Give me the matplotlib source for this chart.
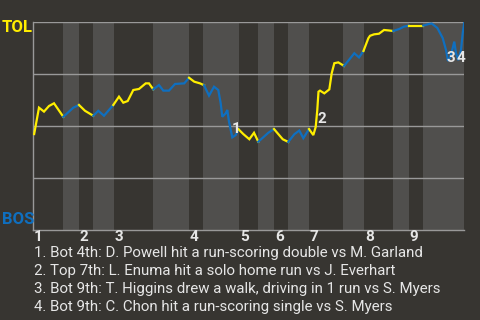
import matplotlib
matplotlib.use("Agg")
from matplotlib import pyplot as plt

# game progress (0-100) and TOL win probability (%)
progress = [0.2, 1.32, 2.48, 3.64, 4.80, 6.96, 9.28, 10.60, 11.99, 13.92,
            15.08, 16.40, 18.56, 19.88, 20.88, 21.90, 23.20, 24.52, 26.08, 26.84,
            27.84, 29.16, 30.16, 31.48, 32.88, 35.03, 36.13, 37.35, 38.68, 39.61,
            40.77, 41.93, 42.92, 43.48, 43.85, 44.64, 45.01, 45.41, 46.17, 46.96,
            47.61, 48.72, 50.12, 51.21, 52.20, 54.52, 55.85, 56.84, 57.87, 59.16,
            60.56, 61.72, 62.65, 63.97, 64.97, 65.52, 65.89, 66.17, 66.52, 67.52,
            68.68, 69.23, 69.84, 70.77, 72.09, 73.25, 74.48, 75.57, 76.61, 77.73,
            78.12, 79.05, 80.21, 81.37, 82.37, 83.53, 84.92, 86.01, 87.17, 90.49,
            91.81, 92.44, 93.74, 94.99, 95.75, 96.22, 96.68, 97.31, 97.68, 98.07,
            98.61, 99.23, 99.63, 100.0]
tol_win = [46.2, 58.9, 57.0, 59.7, 61.0, 54.5, 58.9, 60.2, 57.4, 55.0,
           57.4, 55.0, 60.2, 64.2, 61.3, 62.1, 67.4, 67.9, 70.6, 70.6,
           67.7, 69.8, 67.1, 67.1, 70.3, 70.6, 73.3, 71.4, 70.6, 69.7,
           64.7, 69.0, 67.4, 61.0, 54.5, 56.2, 57.8, 52.1, 44.6, 45.7,
           48.5, 46.2, 43.7, 46.8, 42.5, 46.8, 48.6, 46.2, 43.7, 42.4,
           46.1, 47.9, 44.2, 48.6, 45.7, 49.6, 57.8, 66.6, 67.1, 65.8,
           67.7, 75.4, 80.3, 80.7, 79.0, 81.9, 85.1, 83.1, 86.2, 92.3,
           93.5, 94.2, 94.5, 96.3, 96.1, 95.8, 96.8, 97.9, 98.4, 98.4,
           99.2, 99.4, 97.3, 92.4, 86.7, 81.4, 82.8, 87.6, 90.7, 85.1,
           81.8, 86.7, 94.7, 100.0]

# bottom half-innings (BOS batting) as [start, end]
bottom_halves = [(6.89, 10.60), (13.85, 18.72), (27.77, 36.12), (39.37, 47.72),
                 (52.13, 55.85), (59.09, 63.97), (71.86, 76.73), (83.46, 87.17),
                 (90.42, 100.0)]
inning_starts = [0.0, 10.60, 18.72, 36.12, 47.72, 55.85, 63.97, 76.73, 87.17]
inning_labels = ['1', '2', '3', '4', '5', '6', '7', '8', '9']

event_x = [47.15, 67.05, 96.8, 99.16]
event_y = [48.5, 53.4, 82.7, 82.7]
event_labels = ['1', '2', '3', '4']
event_text = [
    "1. Bot 4th: D. Powell hit a run-scoring double vs M. Garland",
    "2. Top 7th: L. Enuma hit a solo home run vs J. Everhart",
    "3. Bot 9th: T. Higgins drew a walk, driving in 1 run vs S. Myers",
    "4. Bot 9th: C. Chon hit a run-scoring single vs S. Myers",
]

BG = '#373531'
BAND = '#504f4d'
GRID = '#999999'
YELLOW = '#ffee00'
BLUE = '#0f6fbf'
TXT = '#e6e6e6'

plt.rcParams['font.family'] = ['Roboto', 'DejaVu Sans']

fig = plt.figure(figsize=(4.8, 3.2), dpi=100, facecolor=BG)
ax = fig.add_axes([33.3 / 480, 90 / 320, 431 / 480, 207.7 / 320])
ax.set_facecolor(BG)
ax.set_xlim(0, 100)
ax.set_ylim(0, 100)

for start, end in bottom_halves:
    ax.axvspan(start, end, color=BAND, lw=0, zorder=0)

for level in [25, 50, 75, 100]:
    ax.axhline(level, color=GRID, lw=1, zorder=1)

for side in ['top', 'right']:
    ax.spines[side].set_visible(False)
for side in ['left', 'bottom']:
    ax.spines[side].set_color(GRID)
    ax.spines[side].set_linewidth(1)
ax.set_xticks([])
ax.set_yticks([])


def batting_bos(x):
    return any(s <= x < e for s, e in bottom_halves)


# split line into runs with the same colour
runs = []
for i in range(len(progress) - 1):
    mid = (progress[i] + progress[i + 1]) / 2
    col = BLUE if batting_bos(mid) else YELLOW
    if runs and runs[-1][0] == col:
        runs[-1][1].append(i + 1)
    else:
        runs.append((col, [i, i + 1]))

for col, idx in runs:
    ax.plot([progress[j] for j in idx], [tol_win[j] for j in idx],
            color=col, lw=1.6, solid_joinstyle='miter', zorder=3)

for x, y, lab in zip(event_x, event_y, event_labels):
    ax.text(x, y, lab, color=TXT, fontsize=11, fontweight='bold',
            ha='center', va='center', zorder=4)

for x, lab in zip(inning_starts, inning_labels):
    ax.annotate(lab, xy=(x, 0), xycoords=('data', 'axes fraction'),
                xytext=(0.6, -4.8), textcoords='offset points',
                color=TXT, fontsize=11, fontweight='bold', ha='left', va='center')

fig.text(2 / 480, 1 - 27.5 / 320, 'TOL', color=YELLOW, fontsize=12,
         fontweight='bold', ha='left', va='center')
fig.text(2 / 480, 1 - 219.5 / 320, 'BOS', color=BLUE, fontsize=12,
         fontweight='bold', ha='left', va='center')

for k, line in enumerate(event_text):
    fig.text(34 / 480, 1 - (257.3 + 18 * k) / 320, line, color=TXT,
             fontsize=10.8, ha='left', va='baseline')

fig.savefig('out.png', dpi=100, facecolor=BG)
